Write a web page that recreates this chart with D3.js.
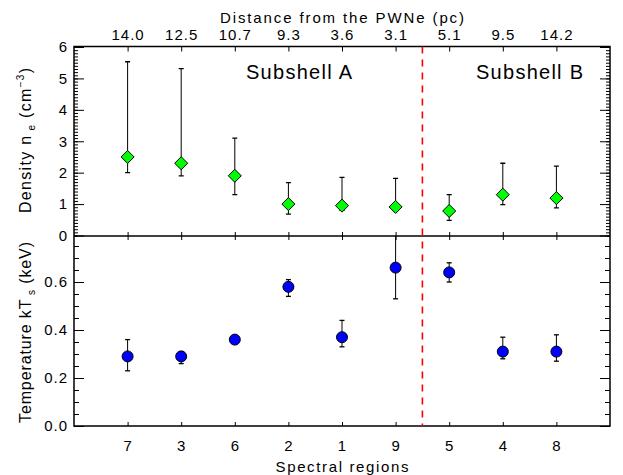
<!DOCTYPE html>
<html><head><meta charset="utf-8">
<script src="https://cdn.jsdelivr.net/npm/d3@7"></script>
<style>
body{margin:0;background:#fff;}
svg text{font-family:"Liberation Sans",Arial,sans-serif;fill:#000;}
</style></head><body>
<svg id="c" width="623" height="475"></svg>
<script>
const regions = ["7","3","6","2","1","9","5","4","8"];
const distances = ["14.0","12.5","10.7","9.3","3.6","3.1","5.1","9.5","14.2"];
const density = [2.5, 2.3, 1.9, 1.0, 0.95, 0.91, 0.78, 1.30, 1.19];
const densityLo = [2.0, 1.9, 1.3, 0.68, 0.80, 0.78, 0.48, 0.98, 0.88];
const densityHi = [5.53, 5.31, 3.1, 1.68, 1.85, 1.82, 1.30, 2.30, 2.21];
const temp = [0.29, 0.29, 0.36, 0.58, 0.37, 0.66, 0.64, 0.31, 0.31];
const tempLo = [0.23, 0.26, 0.35, 0.54, 0.33, 0.53, 0.60, 0.28, 0.27];
const tempHi = [0.36, 0.31, 0.375, 0.61, 0.44, 0.80, 0.68, 0.37, 0.38];
const densityTicks = [0,1,2,3,4,5,6];
const tempTicks = [0.0,0.2,0.4,0.6];
const dividerPos = 6.5;

const svg = d3.select("#c");
const L = 74, R = 610, T = 46.5, M = 236, B = 426;
const x = d3.scaleLinear().domain([0,10]).range([L,R]);
const yTop = d3.scaleLinear().domain([0,6]).range([235.5,47]);
const yBot = d3.scaleLinear().domain([0,0.8]).range([B,234]);
const idx = d3.range(1,10);

const clipT = svg.append("clipPath").attr("id","ct").append("rect").attr("x",L).attr("y",T).attr("width",R-L).attr("height",M-T);
const clipB = svg.append("clipPath").attr("id","cb").append("rect").attr("x",L).attr("y",M).attr("width",R-L).attr("height",B-M);

function styleAxis(g){ g.select(".domain").remove(); g.selectAll("line").attr("stroke","#000").attr("stroke-width",1); g.selectAll("text").attr("font-size",15).style("letter-spacing","1px"); }

// top panel y axes
const minorTop = d3.range(0,60.5,1).map(v=>v/10);
svg.append("g").attr("transform",`translate(${L},0)`).call(d3.axisLeft(yTop).tickValues(minorTop).tickSize(-4).tickFormat("")).call(styleAxis);
svg.append("g").attr("transform",`translate(${L},0)`).call(d3.axisLeft(yTop).tickValues(densityTicks).tickSize(-10).tickPadding(6).tickFormat(d3.format("d"))).call(styleAxis);
svg.append("g").attr("transform",`translate(${R},0)`).call(d3.axisRight(yTop).tickValues(minorTop).tickSize(-4).tickFormat("")).call(styleAxis);
svg.append("g").attr("transform",`translate(${R},0)`).call(d3.axisRight(yTop).tickValues(densityTicks).tickSize(-10).tickFormat("")).call(styleAxis);

// bottom panel y axes
const minorBot = d3.range(0,16).map(v=>v*0.05);
svg.append("g").attr("transform",`translate(${L},0)`).call(d3.axisLeft(yBot).tickValues(minorBot).tickSize(-5).tickFormat("")).call(styleAxis);
svg.append("g").attr("transform",`translate(${L},0)`).call(d3.axisLeft(yBot).tickValues(tempTicks).tickSize(-10).tickPadding(6).tickFormat(d3.format(".1f"))).call(styleAxis);
svg.append("g").attr("transform",`translate(${R},0)`).call(d3.axisRight(yBot).tickValues(minorBot).tickSize(-5).tickFormat("")).call(styleAxis);
svg.append("g").attr("transform",`translate(${R},0)`).call(d3.axisRight(yBot).tickValues(tempTicks).tickSize(-10).tickFormat("")).call(styleAxis);

// x axes
svg.append("g").attr("transform",`translate(0,${T})`).call(d3.axisTop(x).tickValues(idx).tickSize(-5).tickPadding(7).tickFormat(i=>distances[i-1])).call(styleAxis);
svg.append("g").attr("transform",`translate(0,${M})`).call(d3.axisBottom(x).tickValues(idx).tickSize(-4).tickFormat("")).call(styleAxis);
svg.append("g").attr("transform",`translate(0,${M})`).call(d3.axisTop(x).tickValues(idx).tickSize(-4).tickFormat("")).call(styleAxis);
svg.append("g").attr("transform",`translate(0,${B})`).call(d3.axisBottom(x).tickValues(idx).tickSize(-4).tickPadding(14).tickFormat(i=>regions[i-1])).call(styleAxis);

// frames
svg.append("rect").attr("x",L).attr("y",T).attr("width",R-L).attr("height",B-T).attr("fill","none").attr("stroke","#000").attr("stroke-width",1.5);
svg.append("line").attr("x1",L).attr("x2",R).attr("y1",M).attr("y2",M).attr("stroke","#000").attr("stroke-width",1.5);

// divider
svg.append("line").attr("x1",x(dividerPos)).attr("x2",x(dividerPos)).attr("y1",T).attr("y2",B)
  .attr("stroke","#ff0000").attr("stroke-width",1.6).attr("stroke-dasharray","7,6");

// error bars helper
function errBars(g, ys, lo, hi){
  idx.forEach((i,k)=>{
    const cx = x(i);
    g.append("line").attr("x1",cx).attr("x2",cx).attr("y1",ys(lo[k])).attr("y2",ys(hi[k])).attr("stroke","#000").attr("stroke-width",1);
    [lo[k],hi[k]].forEach(v=>{
      g.append("line").attr("x1",cx-2.5).attr("x2",cx+2.5).attr("y1",ys(v)).attr("y2",ys(v)).attr("stroke","#000").attr("stroke-width",1.3);
    });
  });
}
const gT = svg.append("g").attr("clip-path","url(#ct)");
errBars(gT, yTop, densityLo, densityHi);
gT.selectAll("path.d").data(density).join("path")
  .attr("d", (d,k)=>{const cx=x(idx[k]), cy=yTop(d), r=6.5; return `M${cx},${cy-r}L${cx+r},${cy}L${cx},${cy+r}L${cx-r},${cy}Z`;})
  .attr("fill","#00ff00").attr("stroke","#000").attr("stroke-width",1);

const gB = svg.append("g").attr("clip-path","url(#cb)");
errBars(gB, yBot, tempLo, tempHi);
gB.selectAll("circle").data(temp).join("circle")
  .attr("cx",(d,k)=>x(idx[k])).attr("cy",d=>yBot(d)).attr("r",5.5)
  .attr("fill","#0000ff").attr("stroke","#000").attr("stroke-width",1);

// texts
svg.append("text").attr("x",342).attr("y",22.5).attr("text-anchor","middle").attr("font-size",15)
  .attr("textLength",244).attr("lengthAdjust","spacing").text("Distance from the PWNe (pc)");
svg.append("text").attr("x",342).attr("y",471.5).attr("text-anchor","middle").attr("font-size",15)
  .attr("textLength",133).attr("lengthAdjust","spacing").text("Spectral regions");
svg.append("text").attr("x",299).attr("y",79).attr("text-anchor","middle").attr("font-size",20)
  .attr("textLength",106).attr("lengthAdjust","spacing").text("Subshell A");
svg.append("text").attr("x",529.5).attr("y",79).attr("text-anchor","middle").attr("font-size",20)
  .attr("textLength",107).attr("lengthAdjust","spacing").text("Subshell B");

const yl1 = svg.append("text").attr("transform","translate(31,140.5) rotate(-90)").attr("text-anchor","middle").attr("font-size",16)
  .attr("textLength",145).attr("lengthAdjust","spacing");
yl1.append("tspan").text("Density n");
yl1.append("tspan").attr("font-size",10).attr("dy",4).text(" e");
yl1.append("tspan").attr("dy",-4).text("  (cm");
yl1.append("tspan").attr("font-size",10).attr("dy",-7).text("−3");
yl1.append("tspan").attr("dy",7).text(")");

const yl2 = svg.append("text").attr("transform","translate(31,332.5) rotate(-90)").attr("text-anchor","middle").attr("font-size",16)
  .attr("textLength",181).attr("lengthAdjust","spacing");
yl2.append("tspan").text("Temperature kT");
yl2.append("tspan").attr("font-size",10).attr("dy",4).text(" s");
yl2.append("tspan").attr("dy",-4).text("  (keV)");
</script></body></html>
